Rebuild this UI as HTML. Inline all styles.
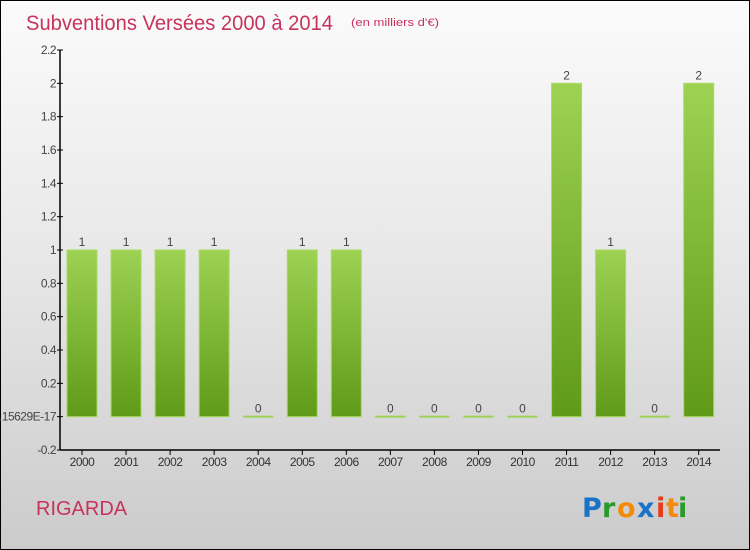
<!DOCTYPE html>
<html><head><meta charset="utf-8"><style>
html,body{margin:0;padding:0}
body{width:750px;height:550px;overflow:hidden;font-family:"Liberation Sans",sans-serif}
#frame{position:absolute;left:0;top:0;width:748px;height:548px;border:1px solid #000;background:linear-gradient(#fbfbfb,#e6e6e6 50%,#cbcbcb)}
</style></head><body>
<div id="frame">
<svg width="750" height="550" style="position:absolute;left:-1px;top:-1px">
<defs><linearGradient id="bg" x1="0" y1="0" x2="0" y2="1"><stop offset="0" stop-color="#9dd253"/><stop offset="1" stop-color="#5f9a18"/></linearGradient></defs>
<text x="26" y="30" font-size="21" fill="#c8325e" textLength="307" lengthAdjust="spacingAndGlyphs">Subventions Versées 2000 à 2014</text>
<text x="351" y="26" font-size="11" fill="#c8325e" textLength="88" lengthAdjust="spacingAndGlyphs">(en milliers d'€)</text>
<text x="36" y="515" font-size="20" fill="#c8325e">RIGARDA</text>
<g font-size="27" font-family="'DejaVu Sans',sans-serif" font-weight="bold">
<text x="582" y="517" fill="#1a73c8">P</text><text x="602" y="517" fill="#2a9a2a">r</text><text x="617" y="517" fill="#f58a0a">o</text><text x="637" y="517" fill="#1a73c8">x</text><text x="656" y="517" fill="#e83a1a">i</text><text x="666" y="517" fill="#f58a0a">t</text><text x="678" y="517" fill="#2a9a2a">i</text>
</g>
<g id="plot"></g>
</svg>
</div>
<script>
const years=["2000","2001","2002","2003","2004","2005","2006","2007","2008","2009","2010","2011","2012","2013","2014"];
const values=[1,1,1,1,0,1,1,0,0,0,0,2,1,0,2];
const tickValues=[2.2,2,1.8,1.6,1.4,1.2,1,0.8,0.6,0.4,0.2,0,-0.2];
const tickLabels=["2.2","2","1.8","1.6","1.4","1.2","1","0.8","0.6","0.4","0.2","-1.15629E-17","-0.2"];
const NS="http://www.w3.org/2000/svg";
const plotG=document.getElementById('plot');
const yMin=-0.2,yMax=2.2,plotTop=50,plotBot=450;
function yS(v){return plotBot-(v-yMin)/(yMax-yMin)*(plotBot-plotTop);}
function xS(i){return 82+i*44.05;}
function mk(t,a){const e=document.createElementNS(NS,t);for(const k in a)e.setAttribute(k,a[k]);plotG.appendChild(e);return e;}
const ax=mk('line',{x1:60,y1:plotTop,x2:60,y2:plotBot,stroke:'#000','stroke-width':1.5});


const xa=mk('line',{x1:60,y1:plotBot,x2:720,y2:plotBot,stroke:'#000','stroke-width':1.5});


tickValues.forEach((v,i)=>{
  mk('line',{x1:57,y1:yS(v),x2:63,y2:yS(v),stroke:'#000'});
  const t=mk('text',{x:56,y:yS(v)+4,'text-anchor':'end','font-size':12,fill:'#444','letter-spacing':'-0.5'});
  t.textContent=tickLabels[i];
  
  
});
years.forEach((yr,i)=>{
  const cx=xS(i);
  mk('line',{x1:cx,y1:plotBot,x2:cx,y2:plotBot+5,stroke:'#000'});
  const t=mk('text',{x:cx,y:plotBot+16,'text-anchor':'middle','font-size':12,fill:'#333','letter-spacing':'-0.5'});
  t.textContent=yr;
  
  
  const v=values[i];
  let b;
  if(v===0){
    b=mk('rect',{x:cx-15,y:yS(0)-1,width:30,height:2,fill:'#9dd253'});
  } else {
    b=mk('rect',{x:cx-15,y:yS(v),width:30,height:yS(0)-yS(v),fill:'url(#bg)',stroke:'#a8dc60','stroke-width':1});
  }
  
  
  const l=mk('text',{x:cx,y:yS(v)-4,'text-anchor':'middle','font-size':12,fill:'#444'});
  l.textContent=String(v);
  
  
});
</script>
</body></html>
